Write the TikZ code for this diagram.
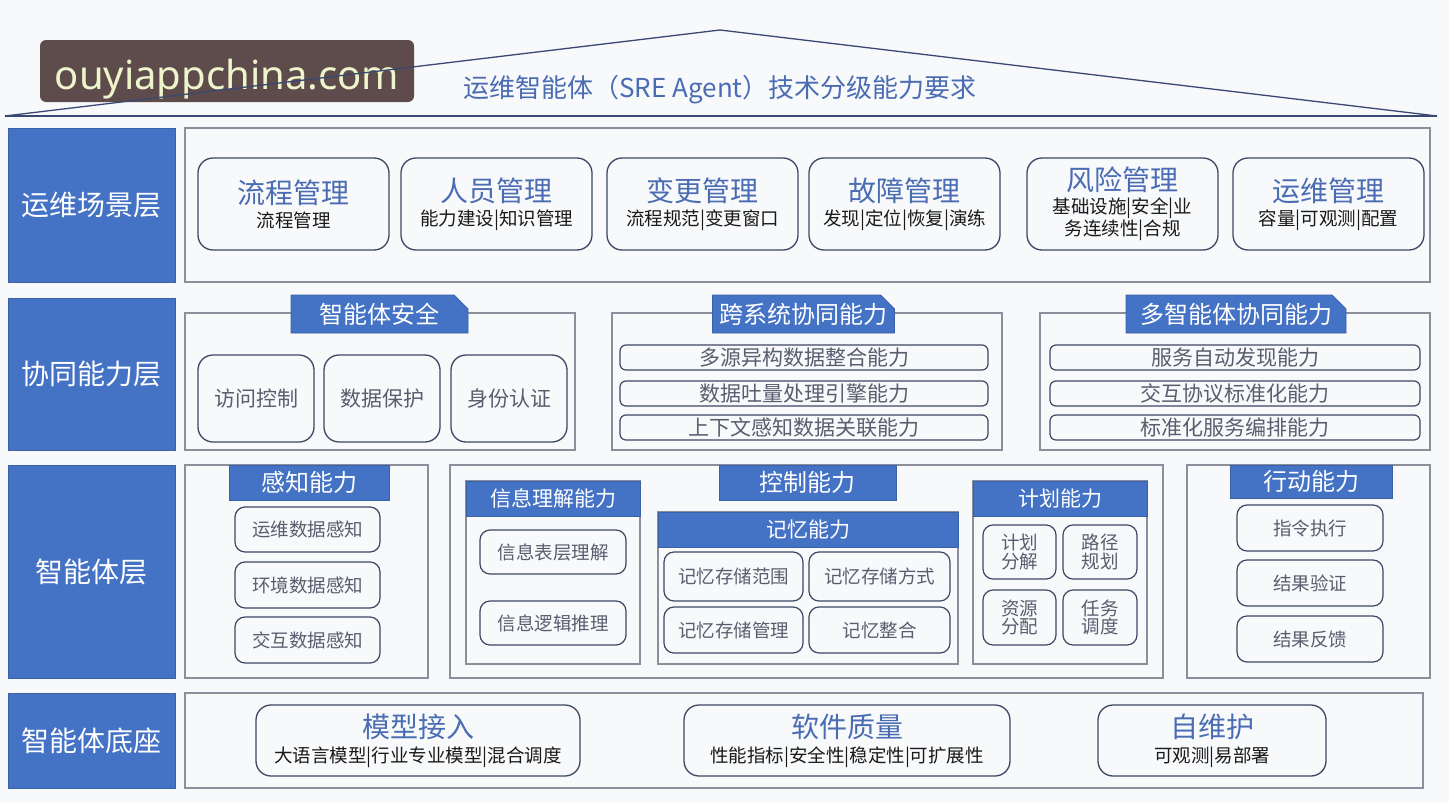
\documentclass[tikz,border=0pt]{standalone}
\usepackage{fontspec}
\setmainfont{Noto Sans CJK SC}
\newfontfamily\wmfont{Noto Sans}
\usetikzlibrary{shapes.misc}
\definecolor{blueF}{RGB}{68,114,196}
\definecolor{titleblue}{RGB}{74,108,179}
\definecolor{rline}{RGB}{62,72,100}
\definecolor{pline}{RGB}{138,143,155}
\definecolor{itxt}{RGB}{88,94,110}
\definecolor{bg}{RGB}{248,249,251}
\definecolor{roof}{RGB}{58,72,115}
\definecolor{wmfill}{RGB}{94,76,76}
\definecolor{wmtext}{RGB}{238,245,205}
\newcommand\fs[1]{\fontsize{#1}{#1}\selectfont}
\newcommand\bx[7]{\node[#6, minimum width={(#4-#2)*1pt}, minimum height={(#5-#3)*1pt}] (#1) at ({(#2+#4)/2},{(#3+#5)/2}) {#7};}
\tikzset{
  every node/.style={inner sep=0pt, outer sep=0pt},
  rowlab/.style={fill=blueF, draw=blueF!85!black, line width=0.8pt, text=white, font=\fs{28}},
  panel/.style={draw=pline, line width=1.3pt},
  scen/.style={draw=rline, line width=1.3pt, rounded corners=15pt, align=center, text=black!90, font=\fontsize{18.5}{22}\selectfont},
  hdr/.style={shape=chamfered rectangle, chamfered rectangle corners=north east, chamfered rectangle xsep=7pt, chamfered rectangle ysep=7pt, fill=blueF, draw=blueF!85!black, line width=0.8pt, text=white, font=\fs{24}},
  shdr/.style={fill=blueF, draw=blueF!85!black, line width=0.8pt, text=white, font=\fs{21}},
  bhdr/.style={fill=blueF, draw=blueF!85!black, line width=0.8pt, text=white, font=\fs{24}},
  rbox/.style={draw=rline, line width=1.3pt, rounded corners=15pt, text=itxt, font=\fs{21}},
  bar/.style={draw=rline, line width=1.2pt, rounded corners=6pt, text=itxt, font=\fs{21}},
  ibox/.style={draw=rline, line width=1.2pt, rounded corners=10pt, text=itxt, font=\fs{18.5}, align=center},
  wmbox/.style={fill=wmfill, rounded corners=6pt, text=wmtext, font=\wmfont\fontsize{40}{40}\selectfont},
}
\begin{document}
\begin{tikzpicture}[x=1pt,y=-1pt]
\useasboundingbox (0,0) rectangle (1449,803);
\fill[bg] (0,0) rectangle (1449,803);
% watermark
\bx{wm}{40}{40}{414}{102}{wmbox}{\raisebox{-18pt}[0pt][0pt]{ouyiappchina.com}}
% roof
\coordinate (rl) at (5,116);
\coordinate (ra) at (720,30);
\coordinate (rr) at (1437,116);
\draw[roof, line width=1.3pt] (rl) -- (ra) -- (rr);
\draw[roof, line width=2pt] (rl) -- (rr);
\node[text=titleblue, font=\fs{26}] (title) at (720,90) {运维智能体（SRE Agent）技术分级能力要求};
% row labels
\bx{L1}{8}{128}{175}{282}{rowlab}{运维场景层}
\bx{L2}{8}{298}{175}{450}{rowlab}{协同能力层}
\bx{L3}{8}{465}{175}{678}{rowlab}{智能体层}
\bx{L4}{8}{693}{175}{788}{rowlab}{智能体底座}
% row 1
\bx{R1}{185}{128}{1430}{282}{panel}{}
\bx{S1}{198}{158}{389}{250}{scen}{{\fs{28}\color{titleblue}流程管理}\\[2pt]流程管理}
\bx{S2}{401}{158}{592}{250}{scen}{{\fs{28}\color{titleblue}人员管理}\\[2pt]能力建设|知识管理}
\bx{S3}{607}{158}{798}{250}{scen}{{\fs{28}\color{titleblue}变更管理}\\[2pt]流程规范|变更窗口}
\bx{S4}{809}{158}{1000}{250}{scen}{{\fs{28}\color{titleblue}故障管理}\\[2pt]发现|定位|恢复|演练}
\bx{S5}{1027}{158}{1218}{250}{scen}{{\fs{28}\color{titleblue}风险管理}\\[1pt]基础设施|安全|业\\务连续性|合规}
\bx{S6}{1233}{158}{1424}{250}{scen}{{\fs{28}\color{titleblue}运维管理}\\[2pt]容量|可观测|配置}
% row 2
\bx{P21}{185}{313}{575}{450}{panel}{}
\bx{P22}{612}{313}{1002}{450}{panel}{}
\bx{P23}{1040}{313}{1430}{450}{panel}{}
\bx{H21}{291}{295}{468}{333}{hdr}{智能体安全}
\bx{H22}{714}{295}{893}{333}{hdr}{跨系统协同能力}
\bx{H23}{1126}{295}{1346}{333}{hdr}{多智能体协同能力}
\bx{A1}{198}{355}{314}{442}{rbox}{访问控制}
\bx{A2}{324}{355}{440}{442}{rbox}{数据保护}
\bx{A3}{451}{355}{567}{442}{rbox}{身份认证}
\bx{B1}{620}{345}{988}{370}{bar}{多源异构数据整合能力}
\bx{B2}{620}{381}{988}{406}{bar}{数据吐量处理引擎能力}
\bx{B3}{620}{415}{988}{440}{bar}{上下文感知数据关联能力}
\bx{C1}{1050}{345}{1420}{370}{bar}{服务自动发现能力}
\bx{C2}{1050}{381}{1420}{406}{bar}{交互协议标准化能力}
\bx{C3}{1050}{415}{1420}{440}{bar}{标准化服务编排能力}
% row 3
\bx{P31}{185}{465}{428}{678}{panel}{}
\bx{H31}{229}{465}{389}{500}{bhdr}{感知能力}
\bx{D1}{235}{507}{380}{552}{ibox}{运维数据感知}
\bx{D2}{235}{562}{380}{608}{ibox}{环境数据感知}
\bx{D3}{235}{617}{380}{663}{ibox}{交互数据感知}
\bx{P32}{450}{465}{1163}{678}{panel}{}
\bx{H32}{719}{465}{896}{500}{bhdr}{控制能力}
\bx{P33}{466}{481}{640}{664}{panel}{}
\bx{H33}{466}{481}{640}{516}{shdr}{信息理解能力}
\bx{E1}{480}{530}{626}{574}{ibox}{信息表层理解}
\bx{E2}{480}{601}{626}{645}{ibox}{信息逻辑推理}
\bx{P34}{658}{512}{958}{664}{panel}{}
\bx{H34}{658}{512}{958}{547}{shdr}{记忆能力}
\bx{F1}{664}{552}{803}{601}{ibox}{记忆存储范围}
\bx{F2}{809}{552}{950}{601}{ibox}{记忆存储方式}
\bx{F3}{664}{607}{803}{653}{ibox}{记忆存储管理}
\bx{F4}{809}{607}{950}{653}{ibox}{记忆整合}
\bx{P35}{973}{481}{1147}{664}{panel}{}
\bx{H35}{973}{481}{1147}{516}{shdr}{计划能力}
\bx{G1}{983}{525}{1056}{579}{ibox}{计划\\分解}
\bx{G2}{1063}{525}{1137}{579}{ibox}{路径\\规划}
\bx{G3}{983}{590}{1056}{645}{ibox}{资源\\分配}
\bx{G4}{1063}{590}{1137}{645}{ibox}{任务\\调度}
\bx{P36}{1187}{465}{1430}{678}{panel}{}
\bx{H36}{1230}{465}{1392}{498}{bhdr}{行动能力}
\bx{K1}{1237}{505}{1383}{551}{ibox}{指令执行}
\bx{K2}{1237}{560}{1383}{606}{ibox}{结果验证}
\bx{K3}{1237}{616}{1383}{662}{ibox}{结果反馈}
% row 4
\bx{P41}{185}{693}{1423}{788}{panel}{}
\bx{M1}{256}{705}{580}{776}{scen}{{\fs{28}\color{titleblue}模型接入}\\[3pt]大语言模型|行业专业模型|混合调度}
\bx{M2}{684}{705}{1010}{776}{scen}{{\fs{28}\color{titleblue}软件质量}\\[3pt]性能指标|安全性|稳定性|可扩展性}
\bx{M3}{1098}{705}{1326}{776}{scen}{{\fs{28}\color{titleblue}自维护}\\[3pt]可观测|易部署}
\end{tikzpicture}
\end{document}
